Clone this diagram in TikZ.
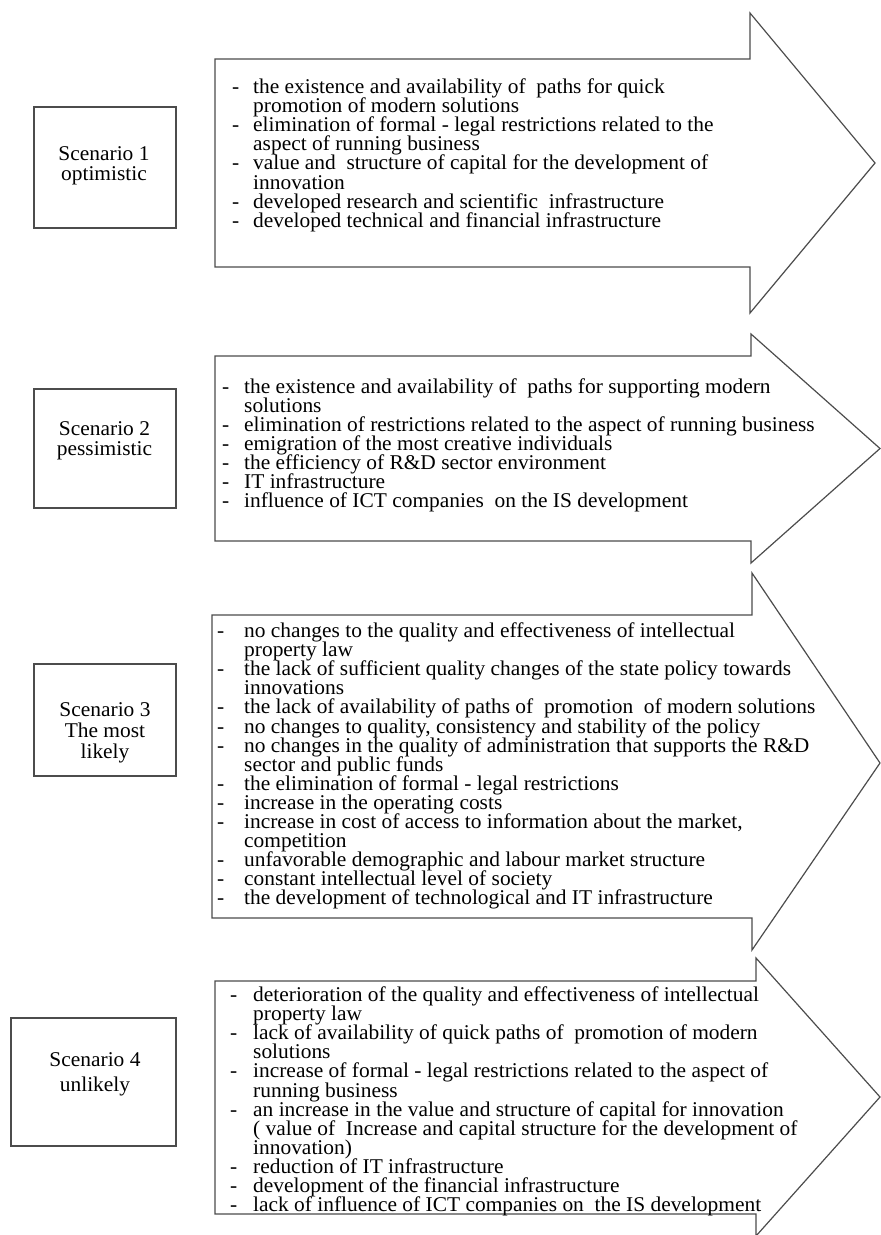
\documentclass[tikz,border=0pt]{standalone}
\usepackage{fontspec}
\setmainfont[FakeStretch=1.02]{Liberation Serif}
\usetikzlibrary{positioning}

\newlength{\dashw}
\newcommand{\fdash}{\makebox[\dashw][l]{-}}
\newcommand{\findent}{\hspace*{\dashw}}
\newcommand{\factorlist}[1]{\parbox[t]{620pt}{\lineskiplimit=-100pt\lineskip=0pt\baselineskip=19.1pt #1}}

\tikzset{
    shape line/.style={draw=black!70, line width=1.2pt, line join=miter},
    scen box/.style={shape line, rectangle, inner sep=0pt},
    scen text/.style={align=center, inner sep=0pt},
    factor list/.style={anchor=base west, inner sep=0pt, font=\fontsize{21}{19.1}\selectfont,
        execute at begin node={\setlength{\dashw}{#1}}},
}

\begin{document}
\begin{tikzpicture}[x=1pt, y=-1pt]
    \useasboundingbox (0,0) rectangle (881,1235);

    % Scenario 1
    \draw [shape line] (215,59) -- (750,59) -- (750,13) -- (875,163) -- (750,313) -- (750,267) -- (215,267) -- cycle;
    \node [scen box, minimum width=142, minimum height=121] (sc1) at (105,167.5) {};
    \node [scen text, font=\fontsize{21}{19.5}\selectfont] (sc1txt) at (104,166) {Scenario 1\\optimistic};
    \node [factor list=21pt] (list1) at (232,93.5) {\factorlist{%
        \fdash the existence and availability of~ paths for quick\\
        \findent promotion of modern solutions\\
        \fdash elimination of formal - legal restrictions related to the\\
        \findent aspect of running business\\
        \fdash value and~ structure of capital for the development of\\
        \findent innovation\\
        \fdash developed research and scientific~ infrastructure\\
        \fdash developed technical and financial infrastructure}};

    % Scenario 2
    \draw [shape line] (215,356) -- (751,356) -- (751,334) -- (880,448.5) -- (751,563) -- (751,541) -- (215,541) -- cycle;
    \node [scen box, minimum width=142, minimum height=119] (sc2) at (105,448.5) {};
    \node [scen text, font=\fontsize{21}{19.5}\selectfont] (sc2txt) at (104.5,441) {Scenario 2\\pessimistic};
    \node [factor list=22pt] (list2) at (222,393) {\factorlist{%
        \fdash the existence and availability of~ paths for supporting modern\\
        \findent solutions\\
        \fdash elimination of restrictions related to the aspect of running business\\
        \fdash emigration of the most creative individuals\\
        \fdash the efficiency of R\&D sector environment\\
        \fdash IT infrastructure\\
        \fdash influence of ICT companies~ on the IS development}};

    % Scenario 3
    \draw [shape line] (212,615) -- (752,615) -- (752,573) -- (880,763) -- (752,950) -- (752,918) -- (212,918) -- cycle;
    \node [scen box, minimum width=142, minimum height=112] (sc3) at (105,720) {};
    \node [scen text, font=\fontsize{21}{21}\selectfont] (sc3txt) at (105,733) {Scenario 3\\The most\\likely};
    \node [factor list=27pt] (list3) at (217,637.5) {\factorlist{%
        \fdash no changes to the quality and effectiveness of intellectual\\
        \findent property law\\
        \fdash the lack of sufficient quality changes of the state policy towards\\
        \findent innovations\\
        \fdash the lack of availability of paths of~ promotion~ of modern solutions\\
        \fdash no changes to quality, consistency and stability of the policy\\
        \fdash no changes in the quality of administration that supports the R\&D\\
        \findent sector and public funds\\
        \fdash the elimination of formal - legal restrictions\\
        \fdash increase in the operating costs\\
        \fdash increase in cost of access to information about the market,\\
        \findent competition\\
        \fdash unfavorable demographic and labour market structure\\
        \fdash constant intellectual level of society\\
        \fdash the development of technological and IT infrastructure}};

    % Scenario 4
    \draw [shape line] (215,981) -- (756,981) -- (756,958) -- (880,1097) -- (756,1236) -- (756,1214) -- (215,1214) -- cycle;
    \node [scen box, minimum width=165, minimum height=128] (sc4) at (93.5,1082) {};
    \node [scen text, font=\fontsize{21}{25}\selectfont] (sc4txt) at (95,1074.5) {Scenario 4\\unlikely};
    \node [factor list=23pt] (list4) at (230,1001.5) {\factorlist{%
        \fdash deterioration of the quality and effectiveness of intellectual\\
        \findent property law\\
        \fdash lack of availability of quick paths of~ promotion of modern\\
        \findent solutions\\
        \fdash increase of formal - legal restrictions related to the aspect of\\
        \findent running business\\
        \fdash an increase in the value and structure of capital for innovation\\
        \findent ( value of~ Increase and capital structure for the development of\\
        \findent innovation)\\
        \fdash reduction of IT infrastructure\\
        \fdash development of the financial infrastructure\\
        \fdash lack of influence of ICT companies on~ the IS development}};
\end{tikzpicture}
\end{document}
